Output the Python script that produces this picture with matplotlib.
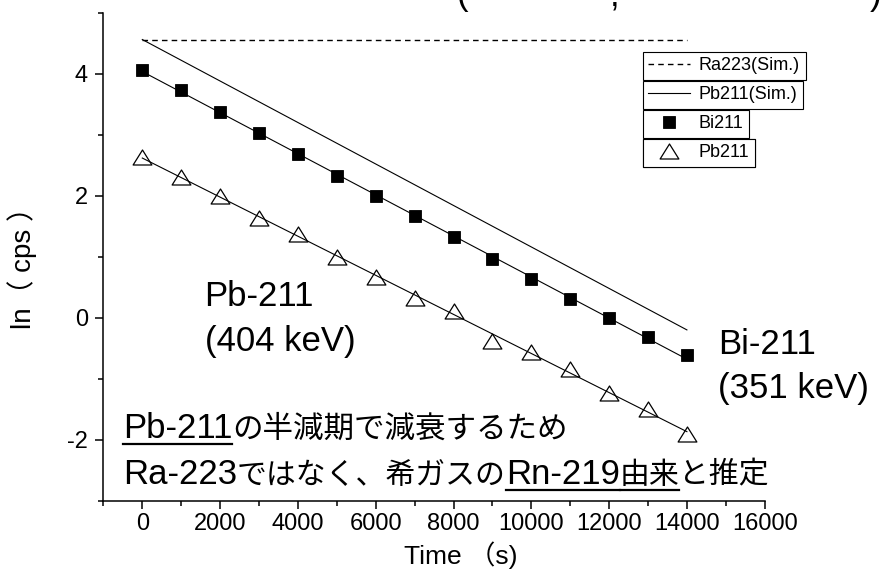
import matplotlib
matplotlib.use("Agg")
import matplotlib.pyplot as plt
from matplotlib.lines import Line2D
from matplotlib.path import Path
from matplotlib.ticker import MultipleLocator
from matplotlib.transforms import IdentityTransform
import numpy as np

plt.rcParams['font.family'] = ['Liberation Sans', 'Noto Sans CJK JP']
plt.rcParams['axes.unicode_minus'] = False

# measured data (ln of count rate)
time_s = [0, 1000, 2000, 3000, 4000, 5000, 6000, 7000,
          8000, 9000, 10000, 11000, 12000, 13000, 14000]
bi211 = [4.06, 3.73, 3.38, 3.03, 2.68, 2.33, 1.99, 1.67,
         1.32, 0.97, 0.63, 0.30, 0.00, -0.31, -0.61]
pb211 = [2.64, 2.30, 1.99, 1.64, 1.37, 0.99, 0.67, 0.33,
         0.11, -0.38, -0.57, -0.84, -1.24, -1.49, -1.90]

# simulation lines
sim_time = [0, 14000]
ra223_sim = [4.56, 4.56]
pb211_sim = [4.56, -0.20]

x_ticks = [0, 2000, 4000, 6000, 8000, 10000, 12000, 14000, 16000]
y_ticks = [-2, 0, 2, 4]
legend_labels = ["Ra223(Sim.)", "Pb211(Sim.)", "Bi211", "Pb211"]

W, H, DPI = 881, 570, 100
fig = plt.figure(figsize=(W / DPI, H / DPI), dpi=DPI)
ax = fig.add_axes([103.4 / W, 69.3 / H, 661.3 / W, 488 / H])
ax.set_xlim(-1000, 16000)
ax.set_ylim(-3, 5)

### LINES ###
dash = (0, (4, 3))
h_ra, = ax.plot(sim_time, ra223_sim, color='black', lw=1.0, ls=dash)
h_pbsim, = ax.plot(sim_time, pb211_sim, color='black', lw=0.8)

# linear fits through the measured points
ends = [time_s[0], time_s[-1]]
for vals in (bi211, pb211):
    coef = np.polyfit(time_s, vals, 1)
    ax.plot(ends, np.polyval(coef, ends), color='black', lw=0.8)

### POINTS ###
# open triangle, a bit wider than tall
tri = Path([(-1, -0.8), (1, -0.8), (0, 0.8), (-1, -0.8)], closed=True)
h_bi, = ax.plot(time_s, bi211, ls='none', marker='s', ms=9,
                mfc='black', mec='black', mew=0.6)
h_pb, = ax.plot(time_s, pb211, ls='none', marker=tri, ms=13.5,
                mfc='none', mec='black', mew=0.9)

### AXES ###
for side in ('top', 'right'):
    ax.spines[side].set_visible(False)
for side in ('left', 'bottom'):
    ax.spines[side].set_linewidth(1.1)
ax.set_xticks(x_ticks)
ax.set_yticks(y_ticks)
ax.xaxis.set_minor_locator(MultipleLocator(1000))
ax.yaxis.set_minor_locator(MultipleLocator(1))
ax.tick_params(which='major', direction='out', length=6, width=1.1, labelsize=17)
ax.tick_params(which='minor', direction='out', length=3.3, width=1.1)
ax.tick_params(axis='x', pad=3)
ax.tick_params(axis='y', pad=5)

ax.set_xlabel("Time （s)", fontsize=19)
ax.xaxis.set_label_coords(0.541, -0.083)
ax.set_ylabel("ln（ cps ）", fontsize=20)
ax.yaxis.set_label_coords(-0.10, 0.49)

### LEGEND (one boxed row per entry) ###
legend_tops = [52, 81, 110, 139]
for h, lab, top in zip([h_ra, h_pbsim, h_bi, h_pb], legend_labels, legend_tops):
    lg = ax.legend([h], [lab], loc='upper left',
                   bbox_to_anchor=(643 / W, 1 - top / H), bbox_transform=fig.transFigure,
                   borderaxespad=0, borderpad=0.3, handlelength=2.3, handletextpad=0.5,
                   fontsize=13, fancybox=False, edgecolor='black', framealpha=1, numpoints=1)
    lg.get_frame().set_linewidth(0.8)
    ax.add_artist(lg)

### ANNOTATIONS ###
ax.text(1600, 0.2, "Pb-211", fontsize=25, va='baseline')
ax.text(1600, -0.54, "(404 keV)", fontsize=25, va='baseline')
ax.text(14800, -0.59, "Bi-211", fontsize=25, va='baseline', clip_on=False)
ax.text(14800, -1.31, "(351 keV)", fontsize=25, va='baseline', clip_on=False)

# title cut off at the top edge of the source picture
top_marks = ["(", ",", ")"]
for s, xp in zip(top_marks, [457, 610, 870]):
    fig.text(xp, H - 5, s, transform=IdentityTransform(), fontsize=25, va='baseline')

renderer = fig.canvas.get_renderer()
LAT = ['Liberation Sans']
JP = ['Noto Sans CJK JP', 'DejaVu Sans']


def draw_pieces(pieces, x0, y0):
    # write pieces one after another on a baseline, underlining some
    x, y = ax.transData.transform((x0, y0))
    for s, fam, size, under in pieces:
        t = fig.text(x, y, s, transform=IdentityTransform(), family=fam,
                     fontsize=size, va='baseline', ha='left')
        bb = t.get_window_extent(renderer)
        if under:
            fig.add_artist(Line2D([bb.x0, bb.x1], [y - 6, y - 6],
                                  transform=IdentityTransform(), color='black', lw=1.6))
        x = bb.x1


draw_pieces([("Pb-211", LAT, 25, True),
             ("の半減期で減衰するため", JP, 22, False)], -500, -1.97)
draw_pieces([("Ra-223", LAT, 25, False),
             ("ではなく、希ガスの", JP, 21.5, False),
             ("Rn-219", LAT, 25, True),
             ("由来", JP, 21.5, True),
             ("と推定", JP, 21.5, False)], -500, -2.72)

fig.savefig("out.png", dpi=DPI)
